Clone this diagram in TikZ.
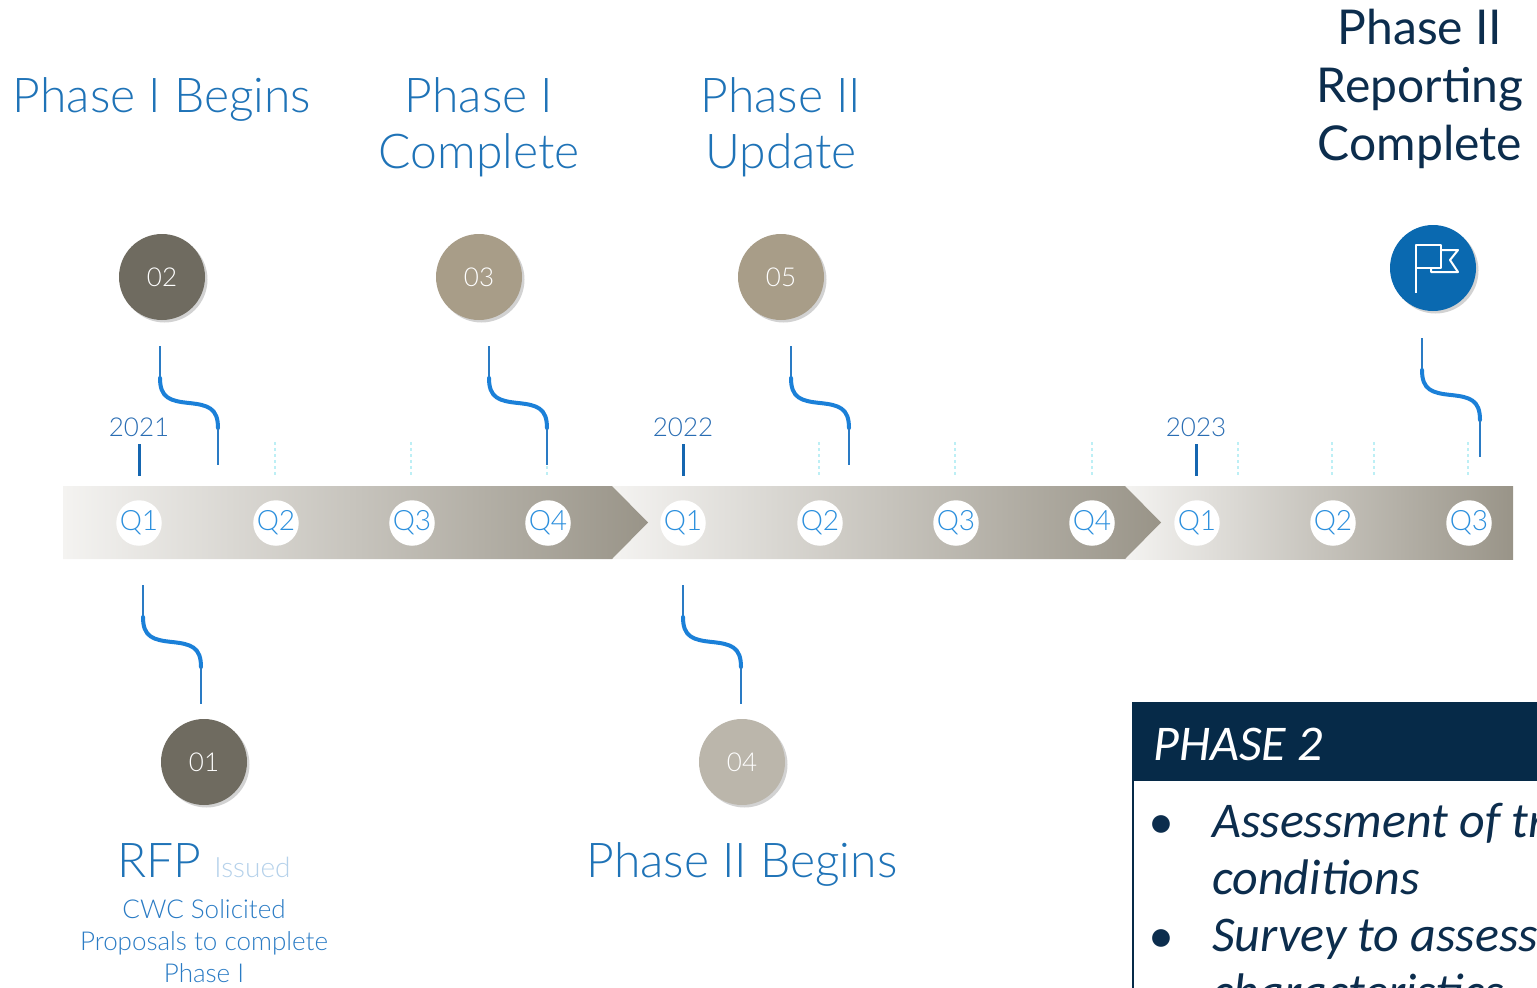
\documentclass[tikz,border=0pt]{standalone}
\usepackage{fontspec}
\IfFontExistsTF{Lato Light}{\setmainfont{Lato Light}}{\setmainfont{Lato}}
\newfontfamily\latoreg{Lato}
\newfontfamily\carlito{Carlito}
\usetikzlibrary{shadows}

\definecolor{titleblue}{HTML}{1F73B7}
\definecolor{qblue}{HTML}{2B8FDD}
\definecolor{yearblue}{HTML}{2A6DB3}
\definecolor{tickblue}{HTML}{1566B0}
\definecolor{waveblue}{HTML}{1B80D8}
\definecolor{stemblue}{HTML}{2A7BC4}
\definecolor{darkstone}{HTML}{6F6B60}
\definecolor{stone}{HTML}{A89D88}
\definecolor{palestone}{HTML}{BBB6AB}
\definecolor{flagblue}{HTML}{0A69B0}
\definecolor{navy}{HTML}{062A48}
\definecolor{navytext}{HTML}{0C2D4D}
\definecolor{issued}{HTML}{B5D1EA}
\definecolor{bandlight}{HTML}{F4F3F1}
\definecolor{banddark}{HTML}{999488}
\definecolor{minortick}{HTML}{BDEFF5}

\tikzset{
  marker/.style={circle, minimum size=86pt, inner sep=0pt, text=white,
    font=\fontsize{26}{26}\selectfont,
    drop shadow={shadow xshift=2.5pt, shadow yshift=-2.5pt, opacity=0.25, fill=black!70}},
  quarter/.style={circle, fill=white, minimum size=42pt, inner sep=0pt,
    text=qblue, font=\fontsize{28}{28}\selectfont},
  title/.style={align=center, inner sep=0pt, text=titleblue,
    font=\fontsize{48}{56}\selectfont},
  year/.style={inner sep=0pt, text=yearblue, font=\fontsize{26}{26}\selectfont},
  stem/.style={stemblue, line width=1.5pt},
  wave/.style={waveblue, line width=4pt, line cap=round},
  minor/.style={minortick, line width=1.2pt, dashed},
  major/.style={tickblue, line width=3pt},
  boxtext/.style={inner sep=0pt, text=navytext, font=\carlito\itshape\fontsize{50}{57}\selectfont}
}

% #1 = x, #2 = y of the upper end
\newcommand\wavy[2]{%
  \draw[stem] (#1,#2) -- (#1,#2+32);
  \draw[wave] (#1,#2+32) .. controls (#1,#2+52) and (#1+10,#2+55) .. (#1+29,#2+57)
    .. controls (#1+48,#2+59) and (#1+58,#2+62) .. (#1+58,#2+82);
  \draw[stem] (#1+58,#2+82) -- (#1+58,#2+119);
}

\begin{document}
\begin{tikzpicture}[x=1pt,y=-1pt]
\useasboundingbox (0,0) rectangle (1537,988);
\clip (0,0) rectangle (1537,988);

% Bands
\shade[left color=bandlight, right color=banddark] (1125,486) rectangle (1513,559);
\shade[left color=bandlight, right color=banddark] (612,486) -- (1125,486) -- (1161,522.5) -- (1125,559) -- (612,559) -- cycle;
\shade[left color=bandlight, right color=banddark] (63,486) -- (612,486) -- (648,522.5) -- (612,559) -- (63,559) -- cycle;

% Quarters
\foreach \x/\q [count=\i] in {139/1,276/2,412/3,548/4,683/1,820/2,956/3,1092/4,1197/1,1333/2,1469/3}
  \node[quarter] (q\i) at (\x,523) {\raisebox{-2pt}{Q\q}};

\foreach \x in {275,411,547,819,955,1092,1238,1332,1374,1468}
  \draw[minor] (\x,442) -- (\x,476);

% Years
\draw[major] (139,444) -- (139,476);
\draw[major] (683,444) -- (683,476);
\draw[major] (1196,444) -- (1196,476);
\node[year] (y21) at (139,427) {2021};
\node[year] (y22) at (683,427) {2022};
\node[year] (y23) at (1196,427) {2023};

% Links
\wavy{160}{346}
\wavy{489}{346}
\wavy{791}{346}
\wavy{1422}{338}
\wavy{143}{585}
\wavy{683}{585}

% Milestones
\node[marker, fill=darkstone] (m02) at (162,277) {02};
\node[marker, fill=stone] (m03) at (479,277) {03};
\node[marker, fill=stone] (m05) at (781,277) {05};
\node[marker, fill=darkstone] (m01) at (204,762) {01};
\node[marker, fill=palestone] (m04) at (742,762) {04};
\node[marker, fill=flagblue] (flag) at (1433,268) {};
\begin{scope}[shift={(flag.center)}]
\draw[white, line width=2pt, line join=round] (-17,25) -- (-17,-23) -- (8,-23) -- (8,0) -- (-17,0);
\draw[white, line width=2pt, line join=round] (8,-18) -- (25,-18) -- (17,-8) -- (25,4) -- (-2,4) -- (-2,0);
\end{scope}

% Titles
\node[title, anchor=north] (t02) at (162,77) {Phase I Begins};
\node[title, anchor=north] (t03) at (479,77) {Phase I\\Complete};
\node[title, anchor=north] (t05) at (781,77) {Phase II\\Update};
\node[title, anchor=north, text=navytext, font=\latoreg\fontsize{48}{58}\selectfont] (t06) at (1420,9) {Phase II\\Reporting\\Complete};
\node[title, anchor=base] (rfp) at (204,877) {RFP \textcolor{issued}{\fontsize{28}{28}\selectfont Issued}};
\node[title, anchor=north, font=\fontsize{26}{32}\selectfont, text=stemblue] (cwc) at (204,899) {CWC Solicited\\Proposals to complete\\Phase I};
\node[title, anchor=base] (t04) at (742,877) {Phase II Begins};

% Phase 2 box
\fill[navy] (1132,702) rectangle (1545,781);
\draw[navy, line width=2pt] (1133,781) -- (1133,995);
\node[boxtext, text=white, anchor=base west] (p2) at (1153,760) {PHASE 2};
\foreach \yy in {838,952}
  \node[boxtext, anchor=base] at (1161,\yy) {•};
\node[boxtext, anchor=north west, align=left] (items) at (1212,803) {Assessment of tr\\conditions\\Survey to assess\\characteristics};
\end{tikzpicture}
\end{document}
